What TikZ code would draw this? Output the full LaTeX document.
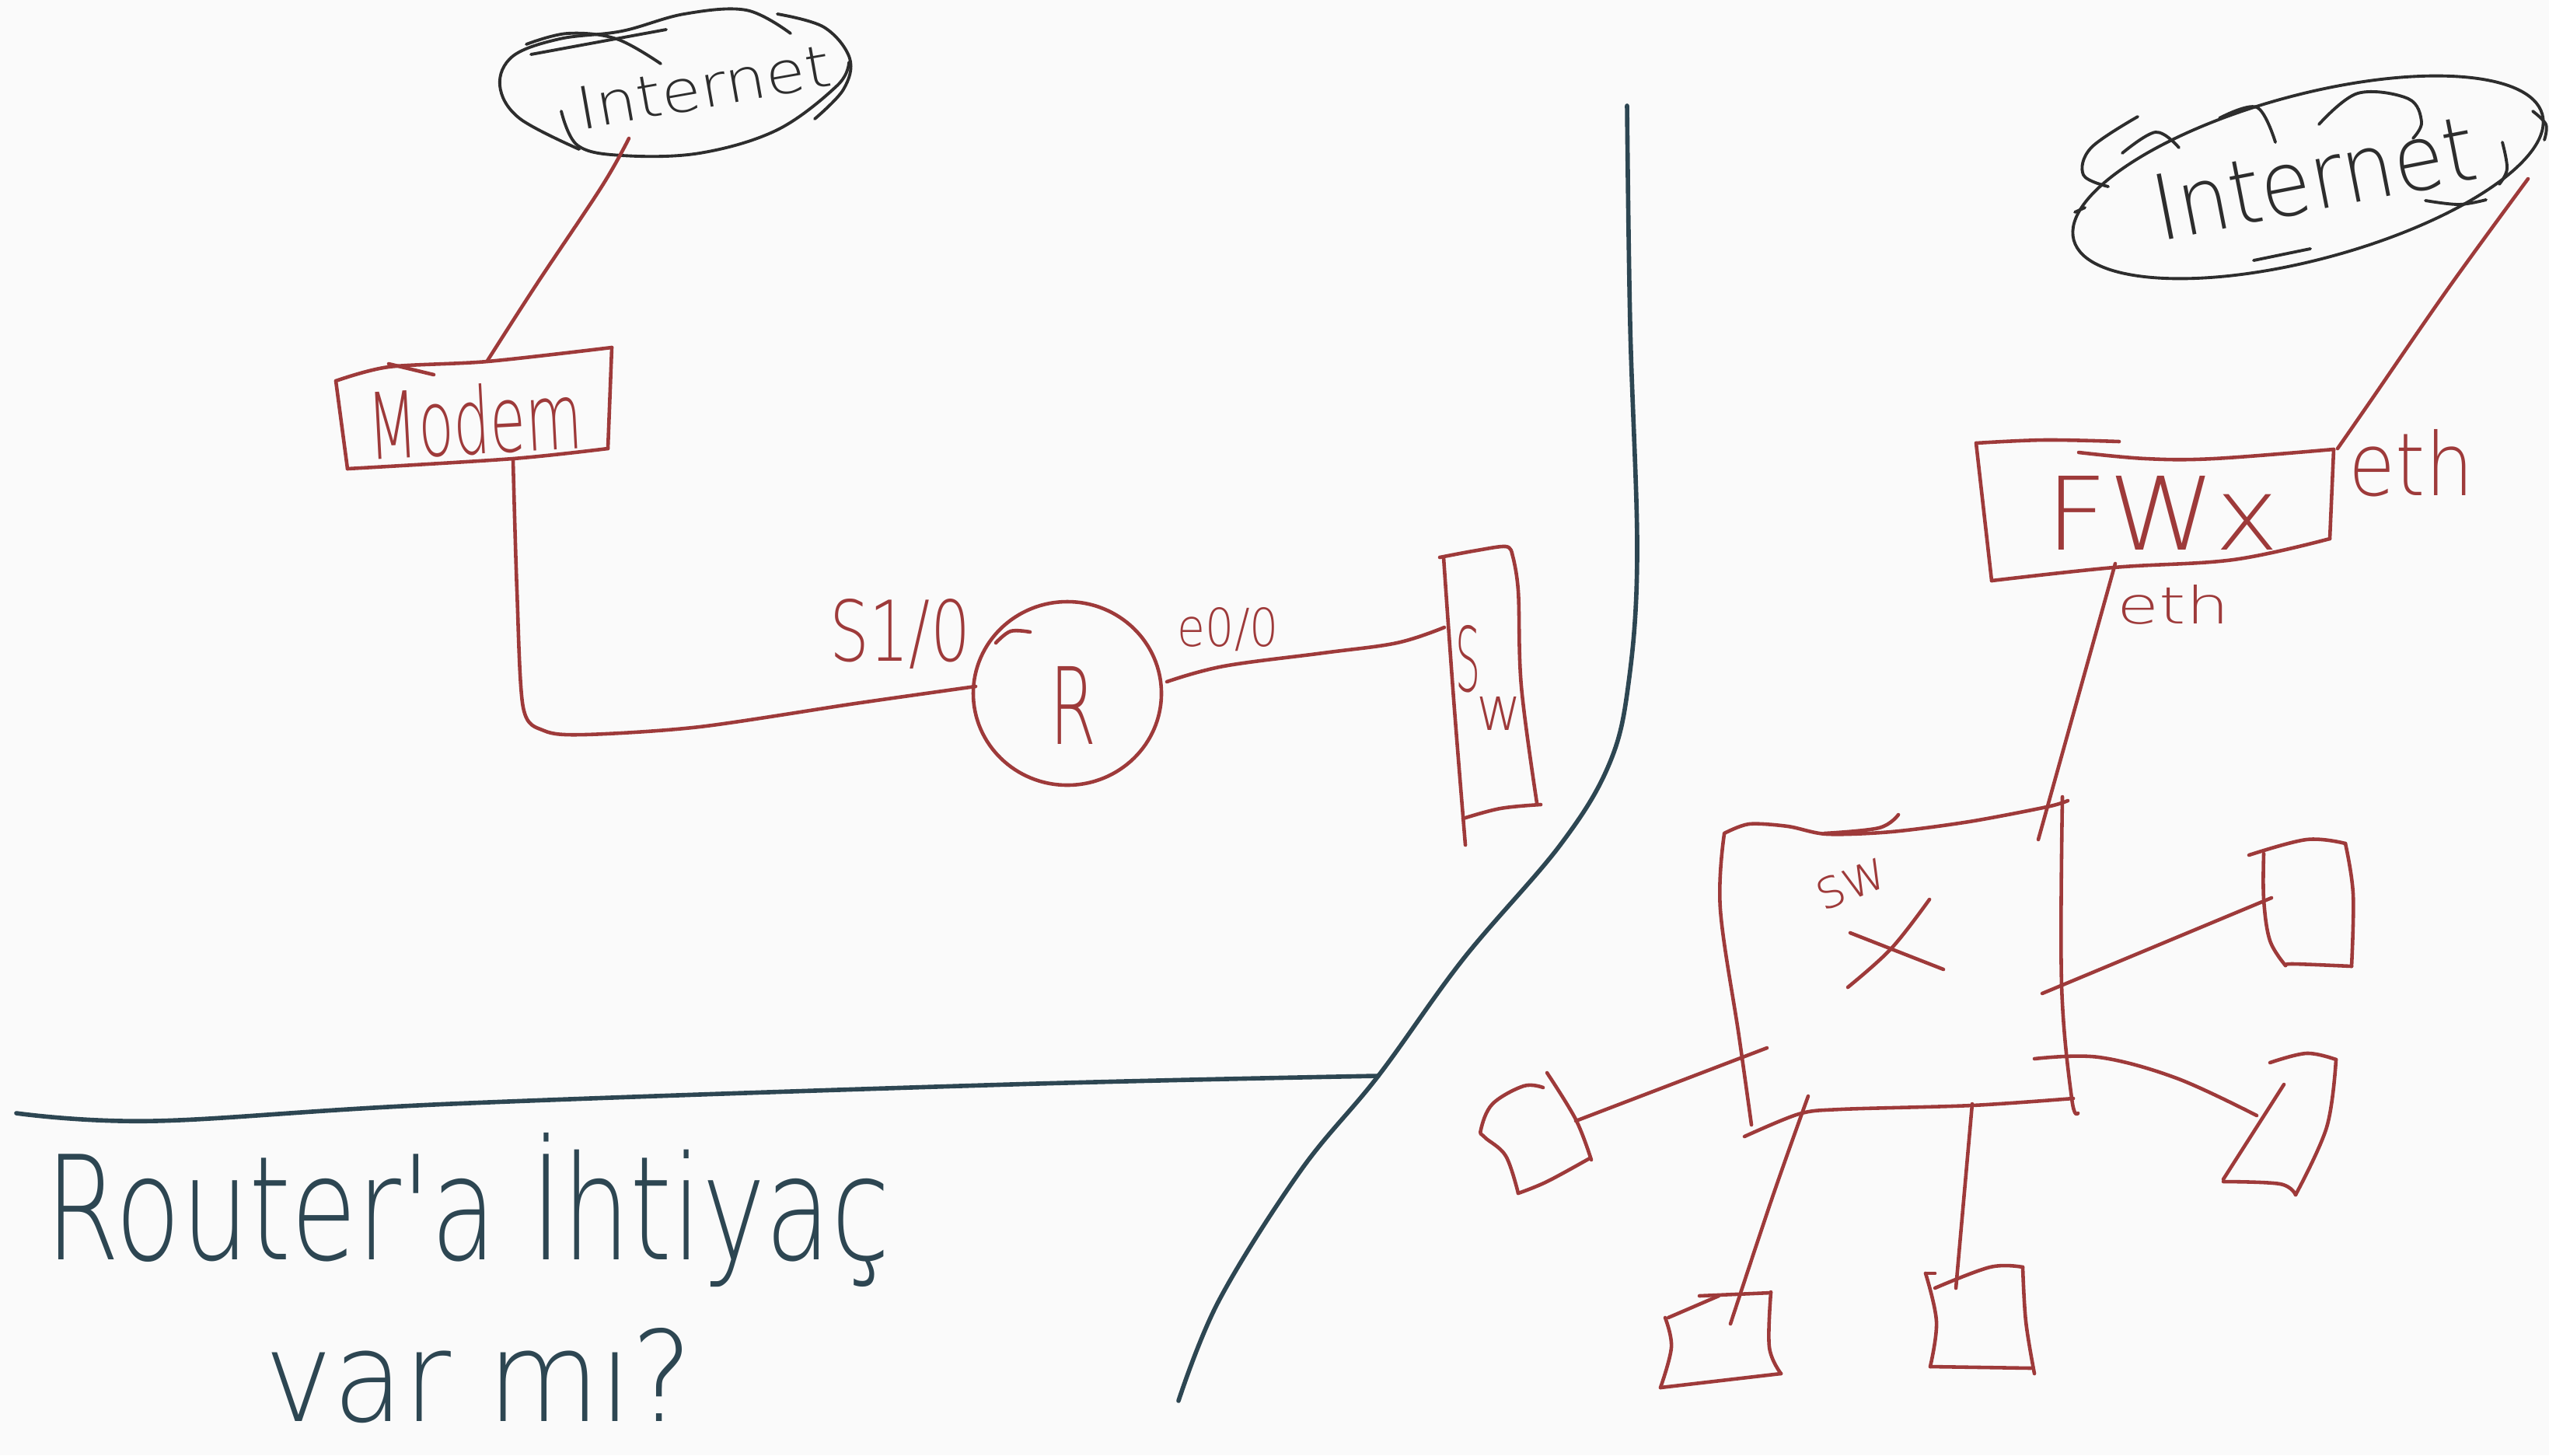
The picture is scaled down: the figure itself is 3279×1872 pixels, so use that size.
\documentclass[tikz,border=0pt]{standalone}
\usepackage{fontspec}
\usepackage{graphicx}
\newfontfamily\handfont{DejaVuSans-ExtraLight.ttf}
% text squeezed into a given width and height
\newcommand{\handtext}[3]{\resizebox{#1}{#2}{\handfont #3}}
\definecolor{inkred}{RGB}{158,58,58}
\definecolor{inkblack}{RGB}{45,45,45}
\definecolor{slate}{RGB}{45,70,82}
\definecolor{paper}{RGB}{250,250,250}
\begin{document}
\begin{tikzpicture}[x=0.01cm,y=-0.01cm,
  redline/.style={draw=inkred,line width=1.3pt,line cap=round,line join=round},
  cloudline/.style={draw=inkblack,line width=1.1pt,line cap=round,line join=round},
  divline/.style={draw=slate,line width=1.6pt,line cap=round,line join=round},
  redtext/.style={inner sep=0pt,text=inkred},
  blacktext/.style={inner sep=0pt,text=inkblack},
  slatetext/.style={inner sep=0pt,text=slate}]

% sheet
\fill[paper] (0,0) rectangle (3279,1872);
\useasboundingbox (0,0) rectangle (3279,1872);

% ---------------- left network ----------------
% Internet cloud
\draw[cloudline] plot[smooth,tension=0.6] coordinates {(745,192) (668,152) (643,110) (660,72) (720,50) (800,40) (880,18) (960,13) (1017,43)};
\draw[cloudline] (683,70) -- (857,38);
\draw[cloudline] plot[smooth,tension=0.6] coordinates {(677,57) (730,43) (793,50) (850,82)};
\draw[cloudline] plot[smooth,tension=0.6] coordinates {(1000,18) (1060,35) (1093,75) (1085,115) (1048,153)};
\draw[cloudline] plot[smooth,tension=0.6] coordinates {(722,143) (743,187) (800,200) (900,197) (1000,167) (1077,110) (1092,80)};
\node[blacktext,rotate=10] (inetL) at (905,112) {\handtext{3.3cm}{0.55cm}{Internet}};

% Modem
\draw[redline] plot[smooth,tension=0.5] coordinates {(432,490) (500,472) (627,465) (787,447)};
\draw[redline] (500,468) -- (558,482);
\draw[redline] (787,447) -- (782,577);
\draw[redline] plot[smooth,tension=0.5] coordinates {(782,577) (660,590) (447,603)};
\draw[redline] (432,490) -- (447,603);
\node[redtext,rotate=3] (modem) at (611,540) {\handtext{2.75cm}{0.9cm}{Modem}};

% Router
\draw[redline] (1373,892) ellipse (121 and 118);
\draw[redline] plot[smooth,tension=0.6] coordinates {(1281,827) (1300,812) (1325,813)};
\node[redtext] (router) at (1381,907) {\handtext{0.6cm}{1.0cm}{R}};
\node[redtext] (serial) at (1158,815) {\handtext{1.8cm}{0.8cm}{S1/0}};
\node[redtext] (ether) at (1580,810) {\handtext{1.3cm}{0.5cm}{e0/0}};

% Switch
\draw[redline] plot[smooth,tension=0.6] coordinates {(1852,717) (1900,708) (1937,703) (1945,712)};
\draw[redline] plot[smooth,tension=0.6] coordinates {(1945,712) (1953,760) (1957,883) (1977,1033)};
\draw[redline] plot[smooth,tension=0.6] coordinates {(1857,717) (1870,900) (1885,1087)};
\draw[redline] plot[smooth,tension=0.6] coordinates {(1882,1053) (1930,1040) (1982,1035)};
\node[redtext] (swS) at (1888,848) {\handtext{0.32cm}{0.85cm}{S}};
\node[redtext] (swW) at (1928,918) {\handtext{0.58cm}{0.43cm}{w}};

% links
\coordinate (inetLfoot) at (809,178);
\coordinate (modemTop) at (627,464);
\coordinate (modemBot) at (660,592);
\coordinate (routerW) at (1255,883);
\coordinate (routerE) at (1501,877);
\coordinate (switchW) at (1858,807);
\draw[redline] plot[smooth,tension=0.6] coordinates {(inetLfoot) (774,240) (690,366) (modemTop)};
\draw[redline] plot[smooth,tension=0.5] coordinates {(modemBot) (665,760) (673,910) (700,940) (753,945) (900,935) (1100,905) (routerW)};
\draw[redline] plot[smooth,tension=0.6] coordinates {(routerE) (1574,857) (1702,840) (1797,827) (switchW)};

% ---------------- dividers and question ----------------
\draw[divline] plot[smooth,tension=0.6] coordinates {(2093,136) (2097,418) (2106,711) (2095,878) (2070,983) (2007,1087) (1882,1234) (1773,1384) (1673,1506) (1568,1673) (1516,1802)};
\draw[divline] plot[smooth,tension=0.6] coordinates {(21,1432) (199,1442) (580,1420) (1300,1395) (1773,1384)};
\node[slatetext,anchor=base west] (question1) at (58,1620) {\handtext{10.86cm}{1.63cm}{Router'a İhtiyaç}};
\node[slatetext,anchor=base west] (question2) at (340,1828) {\handtext{5.5cm}{1.2cm}{var mı?}};

% ---------------- right network ----------------
% Internet cloud
\draw[cloudline,rotate around={15:(2969,228)}] (2969,228) ellipse (312 and 106);
\draw[cloudline] plot[smooth,tension=0.6] coordinates {(2750,150) (2690,190) (2680,225) (2712,240)};
\draw[cloudline] plot[smooth,tension=0.6] coordinates {(2730,197) (2773,170) (2803,190)};
\draw[cloudline] plot[smooth,tension=0.6] coordinates {(2855,152) (2903,138) (2927,183)};
\draw[cloudline] plot[smooth,tension=0.6] coordinates {(2983,160) (3033,120) (3098,127) (3115,157) (3104,178)};
\draw[cloudline] plot[smooth,tension=0.6] coordinates {(3219,183) (3225,217) (3215,237)};
\draw[cloudline] plot[smooth,tension=0.6] coordinates {(3120,258) (3163,263) (3198,257)};
\draw[cloudline] plot[smooth,tension=0.6] coordinates {(3258,143) (3275,160) (3273,180)};
\draw[cloudline] (2899,335) -- (2972,320);
\draw[cloudline] (2669,273) -- (2682,267);
\node[blacktext,rotate=11] (inetR) at (2977,229) {\handtext{4.2cm}{0.85cm}{Internet}};

% firewall
\draw[redline] plot[smooth,tension=0.6] coordinates {(2542,570) (2630,566) (2726,568)};
\draw[redline] plot[smooth,tension=0.6] coordinates {(2674,582) (2760,590) (2848,590) (3002,578)};
\draw[redline] (3002,578) -- (2997,693);
\draw[redline] plot[smooth,tension=0.6] coordinates {(2997,693) (2873,720) (2719,730) (2562,747)};
\draw[redline] (2542,570) -- (2562,747);
\node[redtext] (fw) at (2782,660) {\handtext{3.0cm}{0.95cm}{FWx}};
\node[redtext] (ethOut) at (3102,596) {\handtext{1.6cm}{0.85cm}{eth}};
\node[redtext] (ethIn) at (2796,778) {\handtext{1.44cm}{0.5cm}{eth}};

% main switch
\draw[redline] plot[smooth,tension=0.5] coordinates {(2218,1072) (2250,1060) (2300,1063) (2350,1073) (2433,1070) (2533,1057) (2633,1038) (2660,1030)};
\draw[redline] plot[smooth,tension=0.6] coordinates {(2347,1072) (2417,1065) (2442,1048)};
\draw[redline] plot[smooth,tension=0.6] coordinates {(2653,1025) (2652,1267) (2665,1413) (2673,1432)};
\draw[redline] plot[smooth,tension=0.6] coordinates {(2218,1073) (2213,1170) (2237,1333) (2253,1447)};
\draw[redline] plot[smooth,tension=0.5] coordinates {(2244,1462) (2314,1433) (2368,1427) (2537,1422) (2667,1413)};
\draw[redline] (2380,1200) -- (2500,1247);
\draw[redline] plot[smooth,tension=0.6] coordinates {(2482,1157) (2433,1220) (2377,1270)};
\node[redtext,rotate=22] (swLabel) at (2382,1137) {\handtext{0.95cm}{0.4cm}{sw}};

% hosts
\draw[redline] plot[smooth,tension=0.6] coordinates {(1985,1399) (1960,1397) (1920,1420) (1905,1453) (1910,1463) (1937,1487) (1953,1535)};
\draw[redline] plot[smooth,tension=0.6] coordinates {(1953,1535) (1990,1520) (2045,1490)};
\draw[redline] plot[smooth,tension=0.6] coordinates {(2047,1492) (2027,1440) (1990,1380)};

\draw[redline] plot[smooth,tension=0.6] coordinates {(2893,1100) (2967,1080) (3017,1085)};
\draw[redline] plot[smooth,tension=0.6] coordinates {(3017,1085) (3027,1150) (3025,1243)};
\draw[redline] plot[smooth,tension=0.6] coordinates {(3025,1243) (2950,1240) (2940,1242)};
\draw[redline] plot[smooth,tension=0.6] coordinates {(2940,1242) (2920,1210) (2912,1157) (2912,1098)};

\draw[redline] plot[smooth,tension=0.6] coordinates {(2920,1367) (2967,1355) (3005,1363)};
\draw[redline] plot[smooth,tension=0.6] coordinates {(3005,1363) (2993,1450) (2953,1537)};
\draw[redline] plot[smooth,tension=0.6] coordinates {(2953,1537) (2933,1523) (2860,1520)};
\draw[redline] (2860,1517) -- (2938,1395);

\draw[redline] (2146,1695) -- (2211,1667);
\draw[redline] (2186,1667) -- (2278,1663);
\draw[redline] plot[smooth,tension=0.6] coordinates {(2278,1662) (2276,1733) (2291,1767)};
\draw[redline] (2291,1767) -- (2136,1785);
\draw[redline] plot[smooth,tension=0.6] coordinates {(2136,1785) (2150,1733) (2142,1695)};

\draw[redline] (2477,1638) -- (2489,1638);
\draw[redline] plot[smooth,tension=0.6] coordinates {(2489,1657) (2560,1630) (2602,1630)};
\draw[redline] plot[smooth,tension=0.6] coordinates {(2602,1630) (2606,1700) (2617,1767)};
\draw[redline] (2613,1760) -- (2483,1758);
\draw[redline] plot[smooth,tension=0.6] coordinates {(2483,1758) (2491,1700) (2477,1638)};

% links
\coordinate (inetRfoot) at (3252,230);
\coordinate (fwTop) at (3007,577);
\coordinate (fwBot) at (2721,725);
\coordinate (swTop) at (2622,1080);
\coordinate (swW) at (2273,1348);
\coordinate (hostW) at (2027,1442);
\coordinate (swE) at (2627,1278);
\coordinate (hostNE) at (2922,1155);
\coordinate (swSE) at (2617,1362);
\coordinate (hostSE) at (2903,1435);
\coordinate (swS1) at (2326,1410);
\coordinate (hostS1) at (2226,1703);
\coordinate (swS2) at (2537,1420);
\coordinate (hostS2) at (2516,1657);
\draw[redline] plot[smooth,tension=0.6] coordinates {(inetRfoot) (3150,370) (3050,515) (fwTop)};
\draw[redline] (fwBot) -- (swTop);
\draw[redline] (swW) -- (hostW);
\draw[redline] (swE) -- (hostNE);
\draw[redline] plot[smooth,tension=0.6] coordinates {(swSE) (2700,1360) (2800,1387) (hostSE)};
\draw[redline] plot[smooth,tension=0.6] coordinates {(swS1) (2280,1540) (hostS1)};
\draw[redline] (swS2) -- (hostS2);

\end{tikzpicture}
\end{document}
